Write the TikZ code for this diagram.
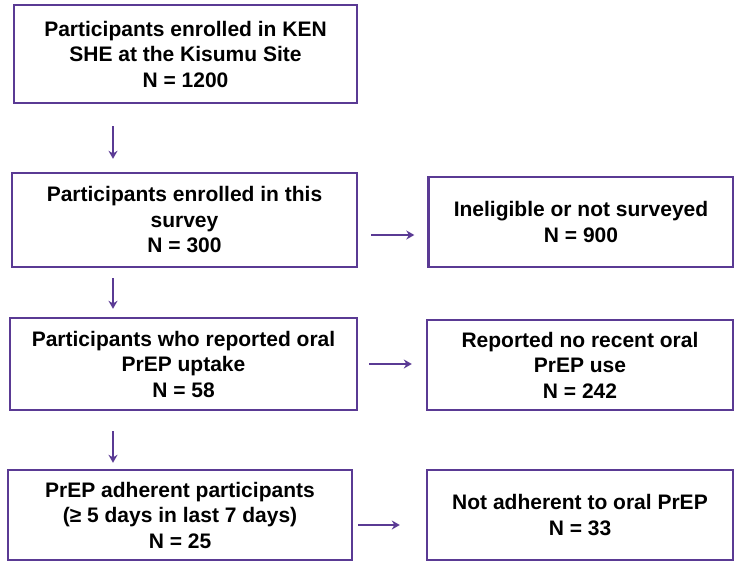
\documentclass[tikz,border=0pt]{standalone}
\usepackage{fontspec}
\setmainfont{Liberation Sans}
\usetikzlibrary{arrows.meta}
\definecolor{pur}{HTML}{5A3A94}
\begin{document}
\begin{tikzpicture}[x=1pt,y=-1pt,
  box/.style={draw=pur,line width=2.4pt,fill=white,inner sep=0pt,align=center,
    font=\fontsize{21}{25.5}\selectfont\bfseries},
  arr/.style={draw=pur,line width=2.6pt,-{Stealth[length=8pt,width=9pt]}}]
\useasboundingbox (0,0) rectangle (734,565);
\node[box,minimum width=343pt,minimum height=98pt] (b1) at (185.5,54) {Participants enrolled in KEN\\SHE at the Kisumu Site\\N = 1200};
\node[box,minimum width=345pt,minimum height=94pt] (b2) at (184.5,220) {Participants enrolled in this\\survey\\N = 300};
\node[box,minimum width=305pt,minimum height=90pt] (r1) at (581,222) {Ineligible or not surveyed\\N = 900};
\node[box,minimum width=347pt,minimum height=92pt] (b3) at (183.5,364) {Participants who reported oral\\PrEP uptake\\N = 58};
\node[box,minimum width=306pt,minimum height=90pt] (r2) at (580,365) {Reported no recent oral\\PrEP use\\N = 242};
\node[box,minimum width=344pt,minimum height=90pt] (b4) at (180,515) {PrEP adherent participants\\(\symbol{"2265} 5 days in last 7 days)\\N = 25};
\node[box,minimum width=306pt,minimum height=90pt] (r3) at (580,515) {Not adherent to oral PrEP\\N = 33};
\coordinate (cx) at (113,0);
\coordinate (y1) at (0,235);
\coordinate (y2) at (0,364);
\coordinate (y3) at (0,525);
\draw[arr,shorten <=22pt,shorten >=13pt] (b1.south -| cx) -- (b2.north -| cx);
\draw[arr,shorten <=10pt,shorten >=8pt] (b2.south -| cx) -- (b3.north -| cx);
\draw[arr,shorten <=20pt,shorten >=6pt] (b3.south -| cx) -- (b4.north -| cx);
\draw[arr,shorten <=13pt,shorten >=13pt] (b2.east |- y1) -- (r1.west |- y1);
\draw[arr,shorten <=11pt,shorten >=14pt] (b3.east |- y2) -- (r2.west |- y2);
\draw[arr,shorten <=5pt,shorten >=26pt] (b4.east |- y3) -- (r3.west |- y3);
\end{tikzpicture}
\end{document}
